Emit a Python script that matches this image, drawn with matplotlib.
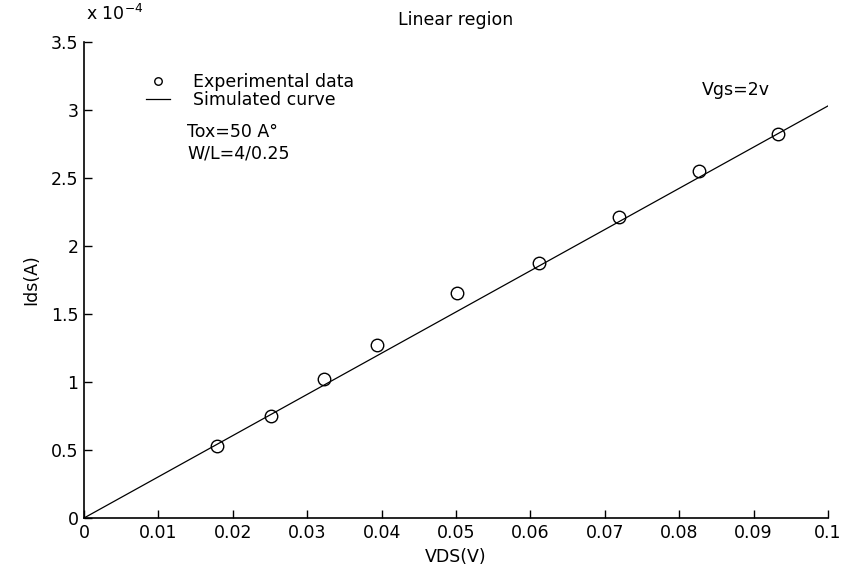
import matplotlib
matplotlib.use("Agg")
import matplotlib.pyplot as plt
from matplotlib.ticker import FuncFormatter

plt.rcParams["font.family"] = ["DejaVu Sans"]

# measured points (VDS in V, Ids in A)
vds_exp = [0.0179, 0.0251, 0.0323, 0.0394, 0.0502, 0.0612, 0.0719, 0.0827, 0.0933]
ids_exp = [0.529e-4, 0.752e-4, 1.020e-4, 1.272e-4, 1.652e-4, 1.875e-4, 2.215e-4, 2.554e-4, 2.821e-4]

# simulated curve
vds_sim = [0.0, 0.1]
ids_sim = [0.0, 3.03e-4]

xticks = [0, 0.01, 0.02, 0.03, 0.04, 0.05, 0.06, 0.07, 0.08, 0.09, 0.1]
yticks = [0, 0.5e-4, 1e-4, 1.5e-4, 2e-4, 2.5e-4, 3e-4, 3.5e-4]

FS = 12.5

fig = plt.figure(figsize=(8.42, 5.71), dpi=100)
ax = fig.add_axes([84 / 842, 53 / 571, 744 / 842, 476 / 571])

ax.plot(vds_exp, ids_exp, "o", mfc="none", mec="black", ms=9, mew=1,
        label="Experimental data")
ax.plot(vds_sim, ids_sim, "-", color="black", lw=0.9, label="Simulated curve")

ax.set_xlim(0, 0.1)
ax.set_ylim(0, 3.5e-4)
ax.set_xticks(xticks)
ax.set_yticks(yticks)
ax.xaxis.set_major_formatter(FuncFormatter(lambda v, p: "%g" % round(v, 4)))
ax.yaxis.set_major_formatter(FuncFormatter(lambda v, p: "%g" % round(v / 1e-4, 2)))
ax.tick_params(direction="in", length=6, width=1, labelsize=FS, pad=4)
ax.spines["top"].set_visible(False)
ax.spines["right"].set_visible(False)
for s in ["left", "bottom"]:
    ax.spines[s].set_linewidth(1.2)

ax.set_xlabel("VDS(V)", fontsize=FS, labelpad=5)
ax.set_ylabel("Ids(A)", fontsize=FS, labelpad=8)
ax.set_title("Linear region", fontsize=FS, pad=12)

# MATLAB style exponent above the y axis
fig.text(86 / 842, 1 - 14 / 571, r"x 10$^{-4}$", fontsize=FS, va="center", ha="left")

# tight MATLAB-like legend without box
leg = ax.legend(loc="upper left", bbox_to_anchor=(146 / 842, 1 - 73 / 571),
                bbox_transform=fig.transFigure, frameon=False, fontsize=FS,
                handlelength=1.4, handletextpad=1.3, labelspacing=0.0,
                markerscale=0.6, borderpad=0, borderaxespad=0)

fig.text(187 / 842, 1 - 132 / 571, "Tox=50 A°", fontsize=FS, va="center")
fig.text(187 / 842, 1 - 153 / 571, "W/L=4/0.25", fontsize=FS, va="center")
fig.text(702 / 842, 1 - 90 / 571, "Vgs=2v", fontsize=FS, va="center")

fig.savefig("out.png", dpi=100)
